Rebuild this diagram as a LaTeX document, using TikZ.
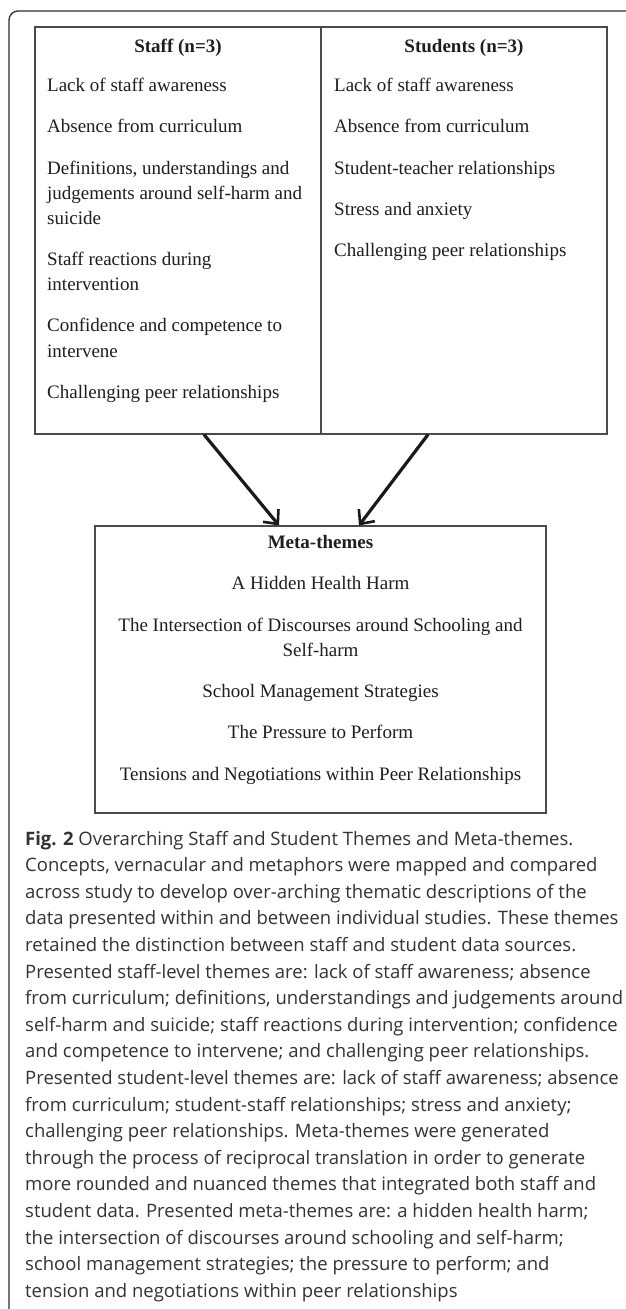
\documentclass[tikz,border=0pt]{standalone}
\usepackage{fontspec}
\setmainfont{Liberation Serif}
\newfontfamily\capfont{Open Sans}
\usetikzlibrary{arrows.meta}
\definecolor{boxgray}{HTML}{4A4A4A}
\definecolor{framec}{HTML}{2E2E2E}
\definecolor{txt}{HTML}{1E1E1E}
\definecolor{captxt}{HTML}{333333}
\definecolor{arrc}{HTML}{1A1A1A}
\begin{document}
\begin{tikzpicture}[x=1pt,y=-1pt,
  box/.style={draw=boxgray, line width=1.1pt, inner sep=0pt},
  item/.style={anchor=base west, inner sep=0pt, font=\fontsize{19}{25}\selectfont, text=txt},
  head/.style={anchor=base, inner sep=0pt, font=\fontsize{19}{25}\selectfont\bfseries, text=txt},
  mitem/.style={anchor=base, inner sep=0pt, font=\fontsize{19}{25}\selectfont, text=txt},
  capline/.style={anchor=base west, inner sep=0pt, font=\capfont\fontsize{18.5}{26}\selectfont, text=captxt},
  arr/.style={line width=3.2pt, draw=arrc, -{Straight Barb[length=11pt,width=20pt,line width=2.6pt]}}
]
\fill[white] (0,0) rectangle (625,1309);
\useasboundingbox (0,0) rectangle (625,1309);

% outer frame (left and top only)
\draw[framec, line width=1.3pt, rounded corners=9pt] (9,1309) -- (9,11) -- (626,11);

% boxes
\node[box, minimum width=286pt, minimum height=407pt] (staff) at (178,230.5) {};
\node[box, minimum width=286pt, minimum height=407pt] (stud) at (464,230.5) {};
\node[box, minimum width=451pt, minimum height=287pt] (meta) at (320.5,669.5) {};

% staff column
\node[head] (stafft) at (178,52) {Staff (n=3)};
\node[item] (s1) at (47,91) {Lack of staff awareness};
\node[item] (s2) at (47,132) {Absence from curriculum};
\node[item] (s3a) at (47,174) {Definitions, understandings and};
\node[item] (s3b) at (47,199) {judgements around self-harm and};
\node[item] (s3c) at (47,224) {suicide};
\node[item] (s4a) at (47,265) {Staff reactions during};
\node[item] (s4b) at (47,290) {intervention};
\node[item] (s5a) at (47,331) {Confidence and competence to};
\node[item] (s5b) at (47,357) {intervene};
\node[item] (s6) at (47,398) {Challenging peer relationships};

% students column
\node[head] (studt) at (464,52) {Students (n=3)};
\node[item] (t1) at (334,91) {Lack of staff awareness};
\node[item] (t2) at (334,132) {Absence from curriculum};
\node[item] (t3) at (334,174) {Student-teacher relationships};
\node[item] (t4) at (334,215) {Stress and anxiety};
\node[item] (t5) at (334,256) {Challenging peer relationships};

% meta-themes
\node[head] (metat) at (320.5,548) {Meta-themes};
\node[mitem] (m1) at (320.5,589) {A Hidden Health Harm};
\node[mitem] (m2a) at (320.5,631) {The Intersection of Discourses around Schooling and};
\node[mitem] (m2b) at (320.5,656) {Self-harm};
\node[mitem] (m3) at (320.5,697) {School Management Strategies};
\node[mitem] (m4) at (320.5,738) {The Pressure to Perform};
\node[mitem] (m5) at (320.5,780) {Tensions and Negotiations within Peer Relationships};

% arrows
\draw[arr] ([xshift=26pt]staff.south) -- ([xshift=-41.5pt]meta.north);
\draw[arr] ([xshift=-36pt]stud.south) -- ([xshift=38.5pt]meta.north);

% caption
\foreach \t [count=\i] in {
{\textbf{Fig. 2} Overarching Staff and Student Themes and Meta-themes.},
{Concepts, vernacular and metaphors were mapped and compared},
{across study to develop over-arching thematic descriptions of the},
{data presented within and between individual studies. These themes},
{retained the distinction between staff and student data sources.},
{Presented staff-level themes are: lack of staff awareness; absence},
{from curriculum; definitions, understandings and judgements around},
{self-harm and suicide; staff reactions during intervention; confidence},
{and competence to intervene; and challenging peer relationships.},
{Presented student-level themes are: lack of staff awareness; absence},
{from curriculum; student-staff relationships; stress and anxiety;},
{challenging peer relationships. Meta-themes were generated},
{through the process of reciprocal translation in order to generate},
{more rounded and nuanced themes that integrated both staff and},
{student data. Presented meta-themes are: a hidden health harm;},
{the intersection of discourses around schooling and self-harm;},
{school management strategies; the pressure to perform; and},
{tension and negotiations within peer relationships}}
{\node[capline] (cap\i) at (25,{845+(\i-1)*26.6}) {\t};}
\end{tikzpicture}
\end{document}
